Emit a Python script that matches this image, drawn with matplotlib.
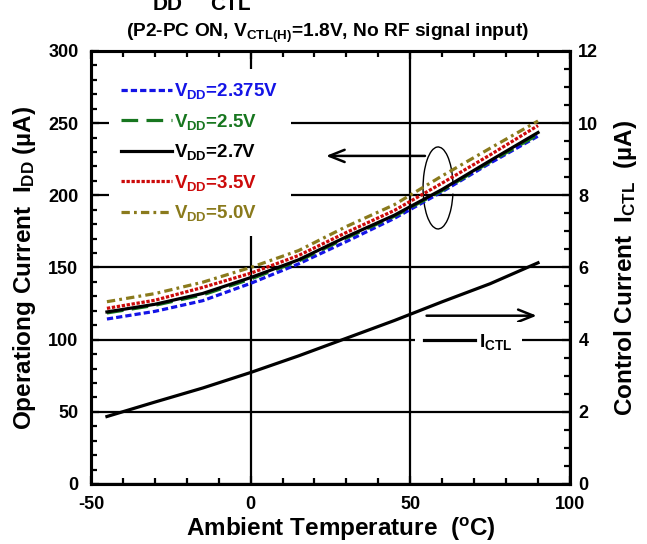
import matplotlib
matplotlib.use('Agg')
import matplotlib.pyplot as plt
from matplotlib.ticker import MultipleLocator
from matplotlib.patches import Arc

plt.rcParams['font.family'] = 'Liberation Sans'
plt.rcParams['font.weight'] = 'bold'
plt.rcParams['axes.labelweight'] = 'bold'
plt.rcParams['axes.unicode_minus'] = False
plt.rcParams['mathtext.fontset'] = 'custom'
plt.rcParams['mathtext.rm'] = 'Liberation Sans:bold'
plt.rcParams['mathtext.it'] = 'Liberation Sans:bold'
plt.rcParams['mathtext.bf'] = 'Liberation Sans:bold'
plt.rcParams['lines.scale_dashes'] = False

# ambient temperature (degC)
temp = [-45, -30, -15, 0, 15, 30, 45, 60, 75, 90]

# operating current IDD (uA) for each VDD
idd_2375 = [114.3, 119.6, 127.0, 139.0, 152.5, 168.0, 184.0, 202.5, 222.3, 241.0]
idd_25 = [118.5, 123.8, 131.0, 142.0, 154.5, 170.5, 185.5, 203.3, 223.2, 242.0]
idd_27 = [119.2, 124.5, 132.0, 143.0, 155.3, 171.3, 186.2, 204.1, 224.0, 243.5]
idd_35 = [121.7, 127.3, 136.2, 146.0, 158.3, 174.3, 189.5, 208.5, 228.0, 248.3]
idd_50 = [126.3, 131.9, 139.8, 150.0, 161.7, 178.4, 193.5, 213.5, 232.6, 251.5]

# control current ICTL (uA)
ictl = [1.87, 2.27, 2.66, 3.09, 3.55, 4.04, 4.53, 5.05, 5.55, 6.13]

labels = [r'$V_{DD}$=2.375V', r'$V_{DD}$=2.5V', r'$V_{DD}$=2.7V',
          r'$V_{DD}$=3.5V', r'$V_{DD}$=5.0V']

fig = plt.figure(figsize=(6.47, 5.44), dpi=100)
ax = fig.add_axes([0.1406, 0.1103, 0.7403, 0.796])
ax2 = ax.twinx()

lw = 2.3
ax.plot(temp, idd_2375, color='#1414e6', lw=lw, dashes=(4.5, 2.2), label=labels[0])
ax.plot(temp, idd_25, color='#17761f', lw=lw, dashes=(12, 6), label=labels[1])
ax.plot(temp, idd_27, color='black', lw=lw, label=labels[2])
ax.plot(temp, idd_35, color='#cc0a0a', lw=lw, dashes=(2.4, 1.2), label=labels[3])
ax.plot(temp, idd_50, color='#8a7a1c', lw=lw, dashes=(6, 3, 2, 3), label=labels[4])

ax2.plot(temp, ictl, color='black', lw=lw, label=r'$I_{CTL}$')

ax.set_xlim(-50, 100)
ax.set_ylim(0, 300)
ax2.set_ylim(0, 12)
ax.set_xticks([-50, 0, 50, 100])
ax.xaxis.set_minor_locator(MultipleLocator(10))
ax.set_yticks(range(0, 301, 50))
ax.yaxis.set_minor_locator(MultipleLocator(10))
ax2.set_yticks(range(0, 13, 2))
ax2.yaxis.set_minor_locator(MultipleLocator(0.5))

ax.grid(which='major', color='black', lw=1.6)
ax.set_axisbelow(True)

for a in (ax, ax2):
    for s in a.spines.values():
        s.set_linewidth(2.2)
ax.tick_params(which='both', direction='in', top=True, right=False,
               labelsize=13, width=1.6)
ax.tick_params(which='major', length=6)
ax.tick_params(which='minor', length=4)
ax.tick_params(axis='y', pad=9)
ax.tick_params(axis='x', pad=9)
ax2.tick_params(which='both', direction='in', labelsize=13, width=1.6, pad=6)
ax2.tick_params(which='major', length=6)
ax2.tick_params(which='minor', length=4)

ax.set_xlabel(r'Ambient Temperature  ($^{o}$C)', fontsize=17.5)
ax.xaxis.set_label_coords(0.522, -0.074, transform=ax.transAxes)
ax.set_ylabel(r'Operationg Current  $I_{DD}$ (µA)', fontsize=17.5, labelpad=7)
ax2.set_ylabel(r'Control Current  $I_{CTL}$  (µA)', fontsize=17.5, labelpad=10)

leg = ax.legend(loc='upper left', bbox_to_anchor=(0.037, 0.958), borderaxespad=0,
                fontsize=13.5, handlelength=2.7, handletextpad=0.15,
                labelspacing=0.56, borderpad=0.65, frameon=True, fancybox=False,
                edgecolor='none', facecolor='white', framealpha=1,
                labelcolor='linecolor')

leg2 = ax2.legend(loc='center left', bbox_to_anchor=(0.676, 0.3286), borderaxespad=0,
                  fontsize=14, handlelength=2.6, handletextpad=0.2,
                  borderpad=0.5, frameon=True, fancybox=False,
                  edgecolor='none', facecolor='white', framealpha=1)

# ellipse around IDD curves and arrows pointing to their axes
ax.add_patch(Arc((58.7, 205.1), 9.4, 56.8, theta1=40, theta2=320,
                 color='black', lw=1))
ax.annotate('', xy=(23.6, 227.3), xytext=(54.6, 227.3),
            arrowprops=dict(arrowstyle='->,head_length=0.55,head_width=0.22',
                            lw=1.8, color='black', mutation_scale=20,
                            shrinkA=0, shrinkB=0))
ax.annotate('', xy=(89.6, 116.6), xytext=(55.1, 116.6),
            arrowprops=dict(arrowstyle='->,head_length=0.55,head_width=0.22',
                            lw=1.8, color='black', mutation_scale=20,
                            shrinkA=0, shrinkB=0))

# title line above the figure edge: only its subscripts show
fig.text(153 / 647, 1 - 10 / 544, 'DD', fontsize=15, ha='left', va='baseline')
fig.text(210 / 647, 1 - 10 / 544, 'CTL', fontsize=15, ha='left', va='baseline')
fig.text(327 / 647, 1 - 37 / 544, r'(P2-PC ON, V$_{CTL(H)}$=1.8V, No RF signal input)',
         fontsize=13.8, ha='center', va='baseline')

fig.savefig('out.png', dpi=100)
